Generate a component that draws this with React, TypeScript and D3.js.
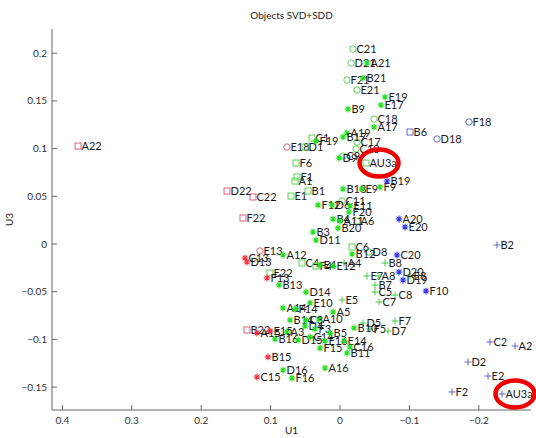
import React from 'react';
import * as d3 from 'd3';

// [label, U1, U3]
type Pt = [string, number, number];

const redSquares: Pt[] = [
  ['A22', 0.3775, 0.1027], ['D22', 0.1628, 0.0556], ['C22', 0.1254, 0.0493],
  ['F22', 0.1398, 0.0273], ['B22', 0.134, -0.0901],
];
const redCircles: Pt[] = [['E18', 0.0764, 0.1017], ['E13', 0.1153, -0.0073]];
const redStars: Pt[] = [
  ['C13', 0.1369, -0.0147], ['D13', 0.134, -0.0189], ['F13', 0.1052, -0.0356],
  ['A15', 0.1196, -0.0933], ['E15', 0.1009, -0.0912], ['B15', 0.1037, -0.1184],
  ['C15', 0.1196, -0.1394],
];
const greenCircles: Pt[] = [
  ['C21', -0.0187, 0.2044], ['D21', -0.0159, 0.1897], ['F21', -0.0101, 0.1719],
  ['E21', -0.0245, 0.1614], ['C18', -0.049, 0.131], ['C17', -0.0245, 0.1069],
  ['C10', -0.0231, 0.0996], ['C9', -0.0043, 0.0922], ['C11', -0.0029, 0.0451],
  ['D8', -0.0418, -0.0084],
];
const greenSquares: Pt[] = [
  ['AU3a', -0.0375, 0.0849], ['F6', 0.0634, 0.0849], ['F1', 0.062, 0.0702],
  ['A1', 0.0648, 0.066], ['E1', 0.0706, 0.0503], ['B1', 0.0461, 0.0556],
  ['C1', 0.0403, 0.1111], ['D1', 0.0504, 0.1017], ['E22', 0.1009, -0.0304],
  ['C6', -0.0173, -0.0031], ['A6', -0.0245, 0.0241], ['C4', 0.0548, -0.0199],
  ['F4', 0.0346, -0.0231],
];
const greenStars: Pt[] = [
  ['A21', -0.0389, 0.1897], ['B21', -0.0331, 0.174], ['E19', -0.0648, 0.1541],
  ['E17', -0.0591, 0.1457], ['B9', -0.0115, 0.1415], ['A17', -0.049, 0.1226],
  ['A19', -0.0101, 0.1164], ['B17', -0.0043, 0.1122], ['F19', 0.0346, 0.108],
  ['D9', 0.0014, 0.0901], ['B18', -0.0043, 0.0577], ['E9', -0.0317, 0.0577],
  ['F9', -0.0576, 0.0597], ['F12', 0.0317, 0.0409], ['D6', 0.0115, 0.0409],
  ['E11', -0.0144, 0.0398], ['F20', -0.013, 0.0335], ['B4', 0.0101, 0.0262],
  ['A11', 0.0, 0.0241], ['B20', 0.0029, 0.0168], ['B3', 0.0389, 0.0126],
  ['D11', 0.0346, 0.0042], ['B12', -0.0173, -0.0105], ['A12', 0.0821, -0.0115],
  ['E4', 0.0288, -0.022], ['E12', 0.0101, -0.0231], ['B13', 0.0879, -0.043],
  ['D14', 0.049, -0.0503], ['E10', 0.0432, -0.0618], ['A14', 0.0821, -0.0671],
  ['F14', 0.0648, -0.0681], ['A5', 0.0101, -0.0713], ['A10', 0.0303, -0.0786],
  ['B14', 0.072, -0.0797], ['C3', 0.049, -0.0797], ['D4', 0.0504, -0.086],
  ['F3', 0.036, -0.0891], ['A3', 0.0764, -0.0922], ['B16', 0.0937, -0.0996],
  ['D15', 0.0605, -0.1006], ['C14', 0.0432, -0.0975], ['B5', 0.0144, -0.0933],
  ['E16', 0.0216, -0.1017], ['E14', -0.0058, -0.1017], ['C16', -0.0144, -0.108],
  ['F15', 0.0288, -0.109], ['B11', -0.0101, -0.1143], ['D16', 0.0821, -0.1321],
  ['A16', 0.0216, -0.13], ['F16', 0.0692, -0.1405], ['B10', -0.0202, -0.088],
];
const greenPlus: Pt[] = [
  ['A4', -0.0058, -0.0199], ['B8', -0.0648, -0.0199], ['E7', -0.0389, -0.0335],
  ['A8', -0.0548, -0.0335], ['B7', -0.0504, -0.043], ['C5', -0.0504, -0.0503],
  ['C8', -0.0793, -0.0535], ['C7', -0.0562, -0.0608], ['E5', -0.0029, -0.0587],
  ['D5', -0.0331, -0.0828], ['F5', -0.0432, -0.0891], ['F7', -0.0793, -0.0807],
  ['D7', -0.0692, -0.0912], ['E8', -0.1009, -0.0335],
];
const blueSquares: Pt[] = [['B6', -0.1009, 0.1174]];
const blueCircles: Pt[] = [['D18', -0.1398, 0.1101], ['F18', -0.1859, 0.1279]];
const blueStars: Pt[] = [
  ['B19', -0.0677, 0.066], ['A20', -0.085, 0.0262], ['E20', -0.0937, 0.0178],
  ['C20', -0.0821, -0.0115], ['D20', -0.085, -0.0294], ['D19', -0.0908, -0.0377],
  ['F10', -0.1239, -0.0493],
];
const bluePlus: Pt[] = [
  ['B2', -0.2262, -0.001], ['C2', -0.2161, -0.1027], ['A2', -0.2522, -0.1069],
  ['D2', -0.1844, -0.1237], ['E2', -0.2133, -0.1384], ['F2', -0.1614, -0.1551],
  ['AU3a', -0.2334, -0.1572],
];

const xTicks = [0.4, 0.3, 0.2, 0.1, 0, -0.1, -0.2];
const yTicks = [0.2, 0.15, 0.1, 0.05, 0, -0.05, -0.1, -0.15];
// the two added query points that are circled
const circled: Pt[] = [greenSquares[0], bluePlus[6]];

const groups = [
  { pts: redSquares, shape: 's', color: '#d8506a' },
  { pts: redCircles, shape: 'o', color: '#d8506a' },
  { pts: greenCircles, shape: 'o', color: '#44d044' },
  { pts: greenSquares, shape: 's', color: '#44d044' },
  { pts: greenPlus, shape: '+', color: '#44d044' },
  { pts: greenStars, shape: '*', color: '#22dd22' },
  { pts: redStars, shape: '*', color: '#ee3344' },
  { pts: blueSquares, shape: 's', color: '#5a5ac0' },
  { pts: blueCircles, shape: 'o', color: '#5a5ac0' },
  { pts: blueStars, shape: '*', color: '#3333e0' },
  { pts: bluePlus, shape: '+', color: '#6666c8' },
];

const W = 536, H = 438;
const left = 52, right = 531, top = 29, bottom = 410;

const x = d3.scaleLinear().domain([0.415, -0.2752]).range([left, right]);
const y = d3.scaleLinear().domain([-0.174, 0.2254]).range([bottom, top]);

const STAR = 'M-3.4,0H3.4M0,-3.4V3.4M-2.4,-2.4L2.4,2.4M-2.4,2.4L2.4,-2.4';
const PLUS = 'M-3.5,0H3.5M0,-3.5V3.5';

function Marker({ shape, color, cx, cy }: { shape: string; color: string; cx: number; cy: number }) {
  if (shape === 's')
    return <rect x={cx - 3} y={cy - 3} width={6} height={6} fill="none" stroke={color} strokeWidth={0.9} />;
  if (shape === 'o')
    return <circle cx={cx} cy={cy} r={3.2} fill="none" stroke={color} strokeWidth={0.9} />;
  return (
    <path d={shape === '*' ? STAR : PLUS} transform={`translate(${cx},${cy})`}
      fill="none" stroke={color} strokeWidth={shape === '*' ? 1.1 : 1} />
  );
}

export default function App() {
  const font = 'Lato, "Liberation Sans", sans-serif';
  return (
    <div style={{ position: 'absolute', left: 0, top: 0 }}>
      <svg width={W} height={H} style={{ display: 'block', background: '#fff' }}>
        <text x={(left + right) / 2} y={19} textAnchor="middle" fontFamily={font} fontSize={10} fill="#222">
          Objects SVD+SDD
        </text>

        {/* axes */}
        <g stroke="#666" strokeWidth={1} fill="none">
          <line x1={left} x2={left} y1={top} y2={bottom} />
          <line x1={left} x2={right} y1={bottom} y2={bottom} />
          {xTicks.map(t => <line key={'xt' + t} x1={x(t)} x2={x(t)} y1={bottom} y2={bottom - 5} />)}
          {yTicks.map(t => <line key={'yt' + t} x1={left} x2={left + 5} y1={y(t)} y2={y(t)} />)}
        </g>
        {xTicks.map(t => (
          <text key={'xl' + t} x={x(t)} y={bottom + 14} textAnchor="middle" fontFamily={font} fontSize={10} fill="#333">
            {t < 0 ? '\u2212' + Math.abs(t) : String(t)}
          </text>
        ))}
        {yTicks.map(t => (
          <text key={'yl' + t} x={left - 5} y={y(t)} dy="0.35em" textAnchor="end" fontFamily={font} fontSize={10} fill="#333">
            {t < 0 ? '\u2212' + Math.abs(t) : String(t)}
          </text>
        ))}
        <text x={(left + right) / 2} y={434} textAnchor="middle" fontFamily={font} fontSize={10} fill="#222">U1</text>
        <text transform={`translate(13,${(top + bottom) / 2}) rotate(-90)`} textAnchor="middle" fontFamily={font} fontSize={10} fill="#222">U3</text>

        {/* points and labels */}
        {groups.map((g, gi) => (
          <g key={gi}>
            {g.pts.map(([lab, u1, u3]) => (
              <g key={lab}>
                <Marker shape={g.shape} color={g.color} cx={x(u1)} cy={y(u3)} />
                <text x={x(u1) + 3.5} y={y(u3)} dy="0.36em" fontFamily={font} fontSize={11} fill="#1a1a1a">{lab}</text>
              </g>
            ))}
          </g>
        ))}

        {circled.map(([lab, u1, u3]) => (
          <ellipse key={'c' + lab + u3} cx={x(u1) + 13} cy={y(u3)} rx={19.5} ry={13.5}
            fill="none" stroke="#ee0000" strokeWidth={4.5} />
        ))}
      </svg>
    </div>
  );
}
